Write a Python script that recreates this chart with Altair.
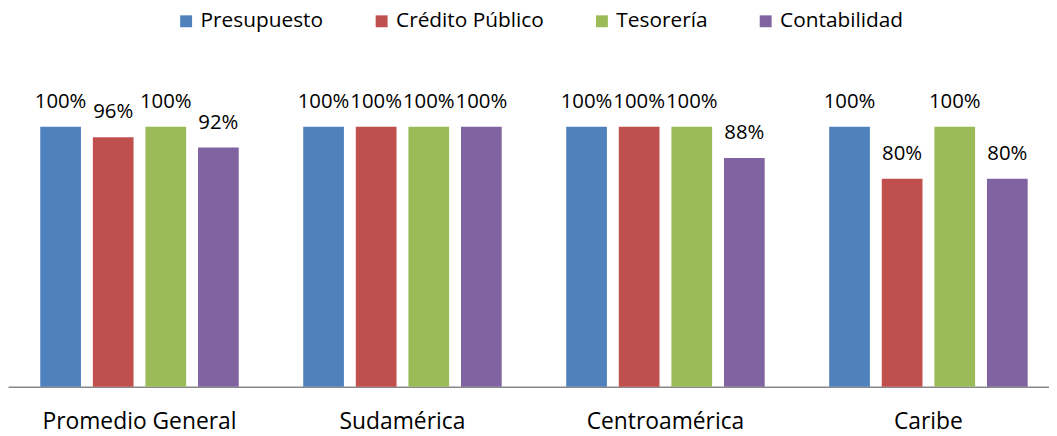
import altair as alt
import pandas as pd

regiones = ["Promedio General", "Sudamérica", "Centroamérica", "Caribe"]
series = ["Presupuesto", "Crédito Público", "Tesorería", "Contabilidad"]
colores = ["#4F81BD", "#C0504D", "#9BBB59", "#8064A2"]
presupuesto = [100, 100, 100, 100]
credito_publico = [96, 100, 100, 80]
tesoreria = [100, 100, 100, 100]
contabilidad = [92, 100, 88, 80]

valores = [presupuesto, credito_publico, tesoreria, contabilidad]
rows = []
for s, vals in zip(series, valores):
    for r, v in zip(regiones, vals):
        rows.append({"region": r, "serie": s, "valor": v, "etiqueta": f"{v}%"})
df = pd.DataFrame(rows)

FONT = "Open Sans"

x = alt.X("region:N", sort=regiones, title=None,
          scale=alt.Scale(range=[0, 1060], paddingInner=0, paddingOuter=0),
          axis=alt.Axis(labelAngle=0, labelFont=FONT, labelFontSize=23, labelColor="#000000",
                        ticks=False, tickSize=0, labelPadding=42, labelBaseline="alphabetic",
                        labelLimit=0, domainColor="#888888", domainWidth=1.5, grid=False))
xo = alt.XOffset("serie:N", sort=series,
                 scale=alt.Scale(paddingInner=0.226, paddingOuter=0.613))
y = alt.Y("valor:Q", scale=alt.Scale(domain=[0, 100]), axis=None)

base = alt.Chart(df)

bars = base.mark_bar().encode(
    x=x, xOffset=xo, y=y,
    color=alt.Color("serie:N", sort=series,
                    scale=alt.Scale(domain=series, range=colores),
                    legend=alt.Legend(title=None, orient="none", direction="horizontal",
                                      columns=4, legendX=169, legendY=-117,
                                      symbolType="square", symbolSize=144,
                                      symbolStrokeWidth=0, labelFont=FONT,
                                      labelFontSize=21, labelColor="#000000",
                                      labelOffset=4, columnPadding=48, padding=0)),
)

labels = base.mark_text(baseline="alphabetic", dy=-19, font=FONT, fontSize=20.5,
                        color="#000000").encode(
    x=x, xOffset=xo, y=y, text="etiqueta:N",
)

chart = (bars + labels).properties(
    width=1049, height=262,
    padding={"top": 118, "left": 0, "right": 0, "bottom": 48},
    autosize=alt.AutoSizeParams(type="none"),
).configure_view(stroke=None)

chart.save("out.html", embed_options={"renderer": "svg", "actions": False})
